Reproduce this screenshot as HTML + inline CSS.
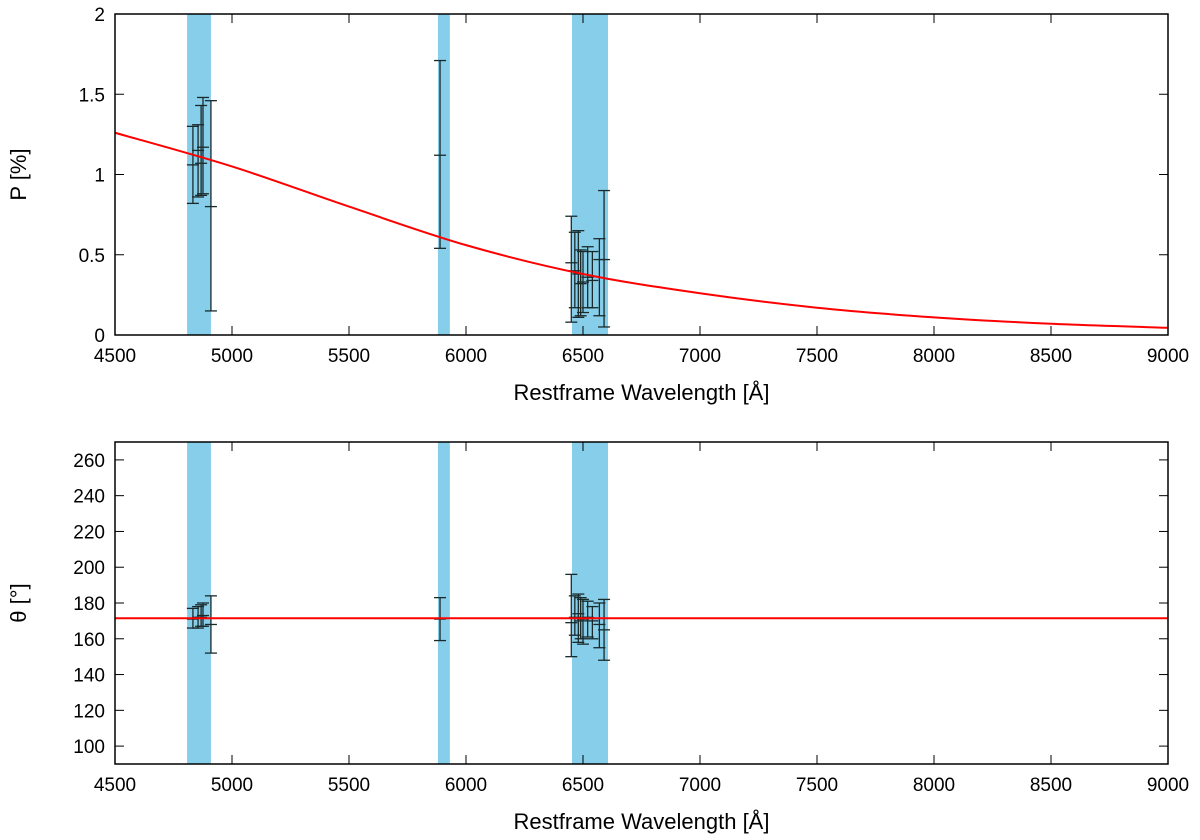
<!DOCTYPE html>
<html><head><meta charset="utf-8"><style>
body{margin:0;background:#fff}
svg{display:block;font-family:"Liberation Sans",sans-serif}
</style></head><body>
<svg id="chart" width="1200" height="840"></svg>
<script>
// ---- data ----
const bands = [[4808,4910],[5880,5931],[6453,6607]];
const pLam = [4833,4855,4868,4876,4910,5889,6450,6465,6480,6490,6500,6520,6540,6570,6590];
const pVal = [1.06,1.15,1.07,1.17,0.80,1.12,0.45,0.40,0.38,0.32,0.33,0.36,0.34,0.47,0.47];
const pHi  = [1.30,1.31,1.43,1.48,1.46,1.71,0.74,0.64,0.65,0.53,0.52,0.55,0.52,0.60,0.90];
const pLo  = [0.82,0.86,0.87,0.88,0.15,0.54,0.08,0.17,0.11,0.12,0.14,0.17,0.17,0.12,0.05];
const tVal = [171,172,172,173,168,171,169,172,174,170,171,172,170,168,165];
const tHi  = [177,178,179,180,184,183,196,184,185,183,182,181,178,180,182];
const tLo  = [166,166,167,167,152,159,150,162,158,160,157,161,160,155,148];
const curveLam = [4500,5000,5500,6000,6500,7000,7500,8000,8500,9000];
const curveP = [1.26,1.05,0.80,0.56,0.38,0.26,0.17,0.11,0.07,0.045];
const thetaFit = 171.5;
const xTicks = [4500,5000,5500,6000,6500,7000,7500,8000,8500,9000];
const pTicks = [0,0.5,1,1.5,2];
const pTickLabels = ["0","0.5","1","1.5","2"];
const tTicks = [100,120,140,160,180,200,220,240,260];

const NS="http://www.w3.org/2000/svg";
const svg=document.getElementById('chart');
function mk(tag,attrs,parent){const e=document.createElementNS(NS,tag);for(const k in attrs)e.setAttribute(k,attrs[k]);(parent||svg).appendChild(e);return e;}
const X0=115,X1=1168;
const xs=l=>X0+(l-4500)/(9000-4500)*(X1-X0);

function panel(name,top,bot,ymin,ymax,yt,ytl,ytitle,vals,his,los,drawFit){
  const ys=v=>bot-(v-ymin)/(ymax-ymin)*(bot-top);
  const g=mk('g',{});
  
  
  bands.forEach((b,i)=>{
    const r=mk('rect',{x:xs(b[0]),y:top,width:xs(b[1])-xs(b[0]),height:bot-top,fill:'#87ceeb'},g);
    
    
  });
  xTicks.forEach(t=>{
    const x=xs(t);
    mk('line',{x1:x,x2:x,y1:bot,y2:bot-9,stroke:'#000','stroke-width':1},g);
    mk('line',{x1:x,x2:x,y1:top,y2:top+9,stroke:'#000','stroke-width':1},g);
    const tx=mk('text',{x:x,y:bot+27,'text-anchor':'middle','font-size':19},g);
    tx.textContent=t;
    
    
  });
  yt.forEach((t,i)=>{
    const y=ys(t);
    mk('line',{x1:X0,x2:X0+9,y1:y,y2:y,stroke:'#000','stroke-width':1},g);
    mk('line',{x1:X1,x2:X1-9,y1:y,y2:y,stroke:'#000','stroke-width':1},g);
    const tx=mk('text',{x:X0-10,y:y+7,'text-anchor':'end','font-size':19},g);
    tx.textContent=ytl[i];
    
    
  });
  vals.forEach((v,i)=>{
    const x=xs(pLam[i]);
    const eb=mk('g',{stroke:'#1a2a2a','stroke-width':1.3},g);
    
    
    mk('line',{x1:x,x2:x,y1:ys(his[i]),y2:ys(los[i])},eb);
    [his[i],los[i],v].forEach(q=>mk('line',{x1:x-6,x2:x+6,y1:ys(q),y2:ys(q)},eb));
  });
  drawFit(ys,g);
  const fr=mk('rect',{x:X0,y:top,width:X1-X0,height:bot-top,fill:'none',stroke:'#000','stroke-width':1.5},g);
  
  
  const xt=mk('text',{x:(X0+X1)/2,y:bot+65,'text-anchor':'middle','font-size':22},g);
  xt.textContent='Restframe Wavelength [Å]';
  
  
  const cy=(top+bot)/2;
  const yti=mk('text',{x:26,y:cy,'text-anchor':'middle','font-size':22,transform:`rotate(-90 26 ${cy})`},g);
  yti.textContent=ytitle;
  
  
}

panel('polarization-panel',14,335,0,2,pTicks,pTickLabels,'P [%]',pVal,pHi,pLo,(ys,g)=>{
  const pts=curveLam.map((l,i)=>[xs(l),ys(curveP[i])]);
  let d='M'+pts[0][0]+','+pts[0][1];
  for(let i=0;i<pts.length-1;i++){
    const p0=pts[Math.max(0,i-1)],p1=pts[i],p2=pts[i+1],p3=pts[Math.min(pts.length-1,i+2)];
    const c1=[p1[0]+(p2[0]-p0[0])/6,p1[1]+(p2[1]-p0[1])/6];
    const c2=[p2[0]-(p3[0]-p1[0])/6,p2[1]-(p3[1]-p1[1])/6];
    d+=` C${c1[0]},${c1[1]} ${c2[0]},${c2[1]} ${p2[0]},${p2[1]}`;
  }
  const p=mk('path',{d:d,fill:'none',stroke:'#f00','stroke-width':2},g);
  
  
});

panel('angle-panel',442,764,90,270,tTicks,tTicks.map(String),'θ [°]',tVal,tHi,tLo,(ys,g)=>{
  const l=mk('line',{x1:X0,x2:X1,y1:ys(thetaFit),y2:ys(thetaFit),stroke:'#f00','stroke-width':2},g);
  
  
});
</script>
</body></html>
